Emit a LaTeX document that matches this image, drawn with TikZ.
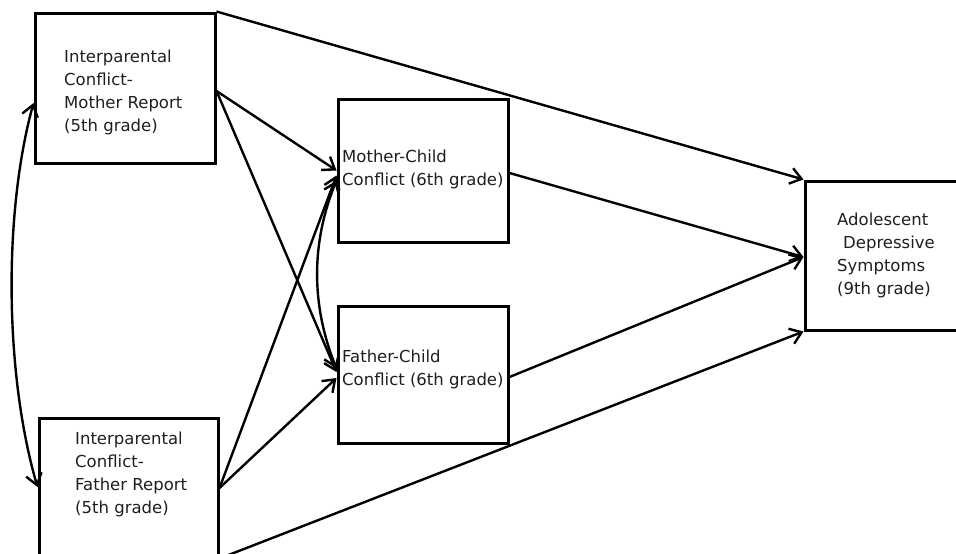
\documentclass[tikz,border=0pt]{standalone}
\usepackage{fontspec}
\setmainfont{DejaVu Sans}
\usetikzlibrary{arrows.meta}
\definecolor{txtgray}{gray}{0.12}
\begin{document}
\begin{tikzpicture}[x=1pt,y=-1pt,
  box/.style={draw=black,line width=3pt,rectangle,inner sep=0pt},
  lbl/.style={inner sep=0pt,anchor=base west,align=left,text=txtgray,
    font=\fontsize{16.5}{23}\selectfont},
  path/.style={draw=black,line width=2.4pt,-{Straight Barb[length=11pt,width=16pt]}},
  cov/.style={draw=black,line width=2.4pt,
    {Straight Barb[length=11pt,width=16pt]}-{Straight Barb[length=11pt,width=16pt]}}]
\useasboundingbox (0,0) rectangle (956,554);
\clip (0,0) rectangle (956,554);
\fill[white] (0,0) rectangle (956,554);

% boxes
\node[box,minimum width=180pt,minimum height=150pt] (A) at (125,88) {};
\node[box,minimum width=179pt,minimum height=150pt] (B) at (128.5,493) {};
\node[box,minimum width=170pt,minimum height=143pt] (M) at (423,170.5) {};
\node[box,minimum width=170pt,minimum height=137pt] (F) at (423,374.5) {};
\node[box,minimum width=165pt,minimum height=149pt] (D) at (887.5,255.5) {};

% labels (anchored at the baseline of their last line)
\node[lbl] (tA) at (64,131) {Interparental\\Conflict-\\Mother Report\\(5th grade)};
\node[lbl] (tB) at (75,513) {Interparental\\Conflict-\\Father Report\\(5th grade)};
\node[lbl] (tM) at (342,185) {Mother-Child\\Conflict (6th grade)};
\node[lbl] (tF) at (342,385) {Father-Child\\Conflict (6th grade)};
\node[lbl] (tD) at (837,294) {Adolescent\\\hspace*{6pt}Depressive\\Symptoms\\(9th grade)};

% direct paths
\draw[path] (A.north east) -- (D.north west);
\draw[path] ([yshift=-3pt]A.east) -- (M.west);
\draw[path] ([yshift=-3pt]A.east) -- ([yshift=2.5pt]F.west);
\draw[path] ([yshift=5pt]B.east) -- ([yshift=-5pt]M.west);
\draw[path] ([yshift=5pt]B.east) -- ([yshift=-3.5pt]F.west);
\draw[path] ([yshift=-2.5pt]M.east) -- ([yshift=-1.5pt]D.west);
\draw[path] ([yshift=-2.5pt]F.east) -- ([yshift=-1.5pt]D.west);
\draw[path] ([yshift=11pt]B.south east) -- (D.south west);

% covariances
\draw[cov] ([yshift=-15pt]A.west) .. controls (3,215) and (5,375) .. ([yshift=6pt]B.west);
\draw[cov] ([yshift=-10pt]M.west) .. controls (311,243) and (311,305) .. ([yshift=6pt]F.west);
\end{tikzpicture}
\end{document}
